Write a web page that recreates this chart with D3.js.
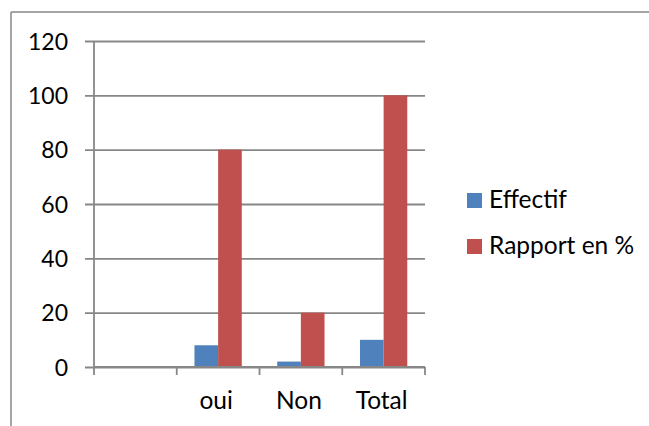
<!DOCTYPE html>
<html>
<head>
<meta charset="utf-8">
<script src="https://cdn.jsdelivr.net/npm/d3@7"></script>
<style>
  html, body { margin: 0; padding: 0; background: #fff; overflow: hidden; }
  svg { display: block; }
  text { font-family: Lato, "Open Sans", sans-serif; fill: #000; }
</style>
</head>
<body>
<svg id="chart" width="649" height="426"></svg>
<script>
const categories = ["", "oui", "Non", "Total"];
const seriesNames = ["Effectif", "Rapport en %"];
const effectif = [null, 8, 2, 10];
const rapport = [null, 80, 20, 100];
const yTicks = [0, 20, 40, 60, 80, 100, 120];
const colors = ["#4F81BD", "#C0504D"];

const svg = d3.select("#chart");
const W = 649, H = 426;
const plot = { left: 94, right: 425, top: 41, bottom: 367 };
const axisColor = "#878787";
const tickFont = 23;
const labelFont = 24.5;

// outer frame (only top and left edges visible in the crop)
svg.append("line").attr("x1", 11).attr("x2", W).attr("y1", 12).attr("y2", 12)
  .attr("stroke", axisColor).attr("stroke-width", 1.5);
svg.append("line").attr("x1", 11).attr("x2", 11).attr("y1", 12).attr("y2", H)
  .attr("stroke", axisColor).attr("stroke-width", 1.5);

const x0 = d3.scaleBand().domain(categories).range([plot.left, plot.right]).paddingInner(0).paddingOuter(0);
const x1 = d3.scaleBand().domain(seriesNames).range([0, x0.bandwidth()]).paddingInner(0).paddingOuter(0.75);
const y = d3.scaleLinear().domain([0, 120]).range([plot.bottom, plot.top]);

// gridlines + y axis
const yAxis = d3.axisLeft(y).tickValues(yTicks).tickSize(plot.right - plot.left + 9).tickSizeOuter(0).tickPadding(18);
const gy = svg.append("g").attr("transform", `translate(${plot.right},0)`).call(yAxis);
gy.select(".domain").remove();
gy.selectAll(".tick line").attr("stroke", axisColor).attr("stroke-width", 1.8);
gy.selectAll(".tick text")
  .attr("x", -(plot.right - plot.left) - 26)
  .style("font-size", tickFont + "px").style("font-family", "Lato, sans-serif").attr("fill", "#000")
  .attr("dy", "0.35em");

// y axis line
svg.append("line")
  .attr("x1", plot.left).attr("x2", plot.left)
  .attr("y1", y(120)).attr("y2", y(0))
  .attr("stroke", axisColor).attr("stroke-width", 1.8);

// bars
const data = categories.map((c, i) => ({ cat: c, vals: [effectif[i], rapport[i]] }));
const groups = svg.append("g").selectAll("g").data(data).join("g")
  .attr("transform", d => `translate(${x0(d.cat)},0)`);
groups.selectAll("rect")
  .data(d => d.vals.map((v, k) => ({ name: seriesNames[k], v, k })).filter(e => e.v != null))
  .join("rect")
  .attr("x", e => x1(e.name))
  .attr("width", x1.bandwidth())
  .attr("y", e => y(e.v))
  .attr("height", e => y(0) - y(e.v))
  .attr("fill", e => colors[e.k]);

// x axis
const xAxisLine = svg.append("g");
xAxisLine.append("line")
  .attr("x1", plot.left).attr("x2", plot.right)
  .attr("y1", y(0)).attr("y2", y(0))
  .attr("stroke", axisColor).attr("stroke-width", 1.8);
const boundaries = categories.map(c => x0(c)).concat([x0(categories[categories.length - 1]) + x0.bandwidth()]);
xAxisLine.selectAll("line.tk").data(boundaries).join("line").attr("class", "tk")
  .attr("x1", d => d).attr("x2", d => d)
  .attr("y1", y(0)).attr("y2", y(0) + 8)
  .attr("stroke", axisColor).attr("stroke-width", 1.8);
xAxisLine.selectAll("text").data(categories).join("text")
  .attr("x", c => x0(c) + x0.bandwidth() / 2 - 2)
  .attr("y", 409)
  .attr("text-anchor", "middle")
  .style("font-size", labelFont + "px")
  .text(c => c);

// legend
const legend = svg.append("g").attr("transform", "translate(467,193)");
const li = legend.selectAll("g").data(seriesNames).join("g")
  .attr("transform", (d, i) => `translate(0,${i * 46})`);
li.append("rect").attr("width", 15).attr("height", 15).attr("fill", (d, i) => colors[i]);
li.append("text").attr("x", 22).attr("y", 15).style("font-size", labelFont + "px").text(d => d);
</script>
</body>
</html>
